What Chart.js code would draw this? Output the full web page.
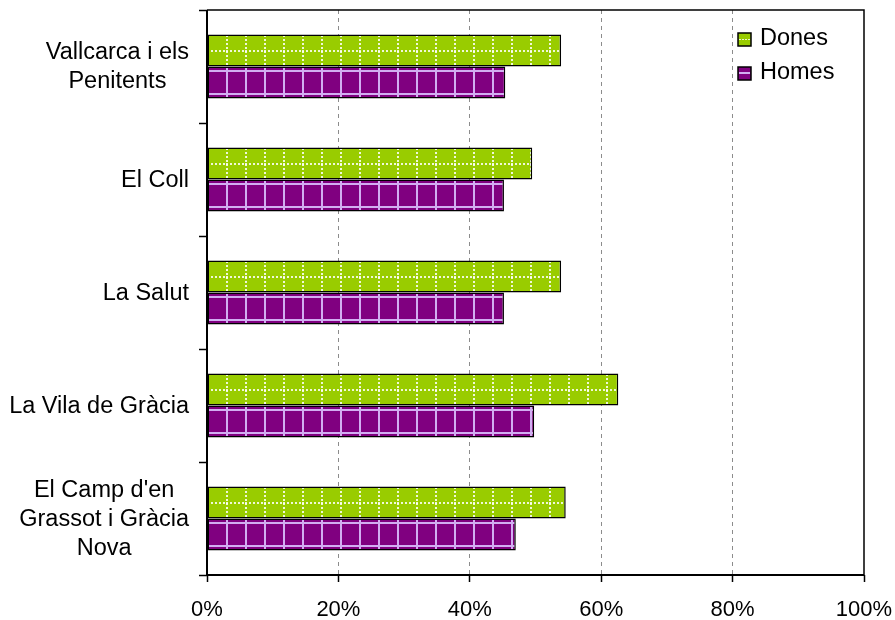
<!DOCTYPE html>
<html>
<head>
<meta charset="utf-8">
<style>
  html, body { margin: 0; padding: 0; background: #fff; }
  #wrap { width: 895px; height: 620px; }
</style>
<script src="https://cdn.jsdelivr.net/npm/chart.js@4/dist/chart.umd.min.js"></script>
</head>
<body>
<div id="wrap"><canvas id="chart" width="895" height="620"></canvas></div>
<script>
// data (percent)
const barris = [
    ['Vallcarca i els', 'Penitents'],
    ['El Coll'],
    ['La Salut'],
    ['La Vila de Gràcia'],
    ["El Camp d'en", 'Grassot i Gràcia', 'Nova']
];
const dones = [53.9, 49.5, 53.9, 62.6, 54.6];
const homes = [45.4, 45.2, 45.2, 49.8, 47.0];
const seriesNames = ['Dones', 'Homes'];
const xTicks = [0, 20, 40, 60, 80, 100];

const GREEN = '#99cc00';
const PURPLE = '#800080';
const LAVENDER = '#d2aef2';
const FONT = '"Liberation Sans", Arial, sans-serif';
const CAT_PCT = 0.566;

function barHeight(chart) {
    const y = chart.scales.y;
    const band = (y.bottom - y.top) / chart.data.labels.length;
    return band * CAT_PCT / 2;
}

function makeTile(kind, h) {
    const tile = document.createElement('canvas');
    tile.width = 19;
    tile.height = Math.max(1, Math.round(h));
    const t = tile.getContext('2d');
    if (kind === 0) {
        t.fillStyle = GREEN;
        t.fillRect(0, 0, tile.width, tile.height);
        t.fillStyle = 'rgba(255,255,255,0.85)';
        for (let yy = 0; yy < tile.height; yy += 4) t.fillRect(0, yy, 2, 2);
        const mid = Math.round(tile.height / 2) - 1;
        for (let xx = 0; xx < tile.width; xx += 4) t.fillRect(xx, mid, 2, 2);
    } else {
        t.fillStyle = PURPLE;
        t.fillRect(0, 0, tile.width, tile.height);
        t.fillStyle = LAVENDER;
        t.fillRect(0, 0, 2, tile.height);
        t.fillRect(0, 3, tile.width, 2);
        t.fillRect(0, tile.height - 6, tile.width, 2);
    }
    return tile;
}

function barFill(ctx) {
    const chart = ctx.chart;
    const kind = ctx.datasetIndex;
    if (!chart.scales.y || !chart.chartArea || ctx.dataIndex === undefined) {
        return kind === 0 ? GREEN : PURPLE;
    }
    const bh = barHeight(chart);
    const center = chart.scales.y.getPixelForValue(ctx.dataIndex);
    const top = kind === 0 ? center - bh : center;
    const pat = chart.ctx.createPattern(makeTile(kind, bh), 'repeat');
    pat.setTransform(new DOMMatrix().translate(chart.scales.x.left, Math.round(top)));
    return pat;
}

// category labels: block right aligned, lines centred inside it
const catLabels = {
    id: 'catLabels',
    afterDraw(chart) {
        const c = chart.ctx, y = chart.scales.y;
        c.save();
        c.font = '23.5px ' + FONT;
        c.fillStyle = '#000';
        c.textAlign = 'center';
        c.textBaseline = 'middle';
        chart.data.labels.forEach((lines, i) => {
            const w = Math.max(...lines.map(l => c.measureText(l).width));
            const cx = 189 - w / 2;
            const cy = y.getPixelForValue(i);
            lines.forEach((l, j) => {
                c.fillText(l, cx, cy + 1 + (j - (lines.length - 1) / 2) * 29);
            });
        });
        c.restore();
    }
};

// frame round the plot area
const frame = {
    id: 'frame',
    afterDatasetsDraw(chart) {
        const c = chart.ctx, a = chart.chartArea;
        c.save();
        c.strokeStyle = '#000';
        c.lineWidth = 1.5;
        c.beginPath();
        c.moveTo(a.left, a.top);
        c.lineTo(a.right, a.top);
        c.lineTo(a.right, a.bottom);
        c.stroke();
        c.lineWidth = 2;
        c.beginPath();
        c.moveTo(a.left, a.top);
        c.lineTo(a.left, a.bottom);
        c.lineTo(a.right, a.bottom);
        c.stroke();
        c.restore();
    }
};

// legend inside the plot, top right
const boxLegend = {
    id: 'boxLegend',
    afterDraw(chart) {
        const c = chart.ctx;
        c.save();
        c.font = '23.5px ' + FONT;
        c.textBaseline = 'middle';
        c.textAlign = 'left';
        chart.data.datasets.forEach((ds, i) => {
            const cy = 39 + i * 34;
            const x = 738;
            c.fillStyle = i === 0 ? GREEN : PURPLE;
            c.fillRect(x, cy - 6, 13, 13);
            c.fillStyle = i === 0 ? 'rgba(255,255,255,0.8)' : LAVENDER;
            if (i === 0) {
                for (let k = 0; k < 11; k += 3) c.fillRect(x + 1 + k, cy, 2, 1);
            } else {
                c.fillRect(x + 1, cy - 1, 11, 2);
            }
            c.strokeStyle = '#000';
            c.lineWidth = 1.5;
            c.strokeRect(x, cy - 6, 13, 13);
            c.fillStyle = '#000';
            c.fillText(ds.label, x + 22, cy);
        });
        c.restore();
    }
};

new Chart(document.getElementById('chart'), {
    type: 'bar',
    data: {
        labels: barris,
        datasets: [
            { label: seriesNames[0], data: dones, backgroundColor: barFill },
            { label: seriesNames[1], data: homes, backgroundColor: barFill }
        ]
    },
    options: {
        indexAxis: 'y',
        responsive: false,
        animation: false,
        events: [],
        layout: { padding: { top: 10, right: 31, left: 0, bottom: 0 } },
        datasets: {
            bar: {
                borderColor: '#000',
                borderWidth: 1.5,
                borderSkipped: false,
                categoryPercentage: CAT_PCT,
                barPercentage: 1
            }
        },
        plugins: {
            legend: { display: false },
            tooltip: { enabled: false }
        },
        scales: {
            x: {
                min: 0,
                max: 100,
                afterFit: s => { s.height = 45; s.paddingLeft = 0; s.paddingRight = 0; },
                afterBuildTicks: s => { s.ticks = xTicks.map(v => ({ value: v })); },
                border: { display: false, dash: [4, 4] },
                grid: {
                    color: ctx => (ctx.tick && (ctx.tick.value === 0 || ctx.tick.value === 100)) ? 'rgba(0,0,0,0)' : '#8c8c8c',
                    lineWidth: 1,
                    tickColor: '#000',
                    tickLength: 7,
                    tickWidth: 1.5,
                    tickBorderDash: []
                },
                ticks: {
                    color: '#000',
                    font: { family: FONT, size: 22 },
                    padding: 15,
                    maxRotation: 0,
                    callback: v => v + '%'
                }
            },
            y: {
                afterFit: s => { s.width = 207; },
                border: { display: false },
                grid: {
                    offset: true,
                    drawOnChartArea: false,
                    tickColor: '#000',
                    tickLength: 8,
                    tickWidth: 1.5
                },
                ticks: { display: false }
            }
        }
    },
    plugins: [frame, catLabels, boxLegend]
});
</script>
</body>
</html>
